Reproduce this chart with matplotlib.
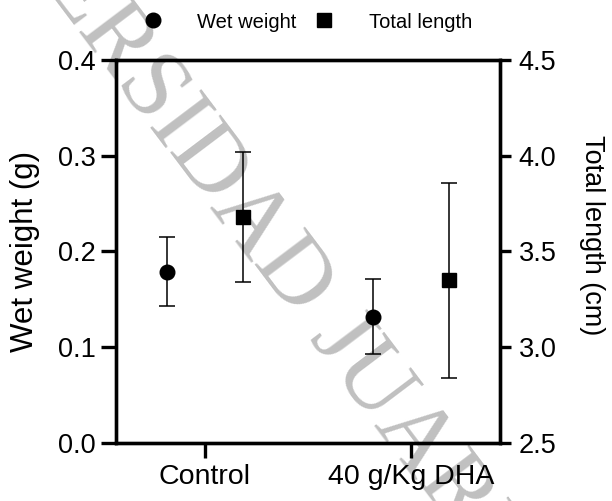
import matplotlib.pyplot as plt
import numpy as np
from matplotlib.lines import Line2D
from matplotlib.ticker import FormatStrFormatter

plt.rcParams['font.family'] = ['Liberation Sans', 'DejaVu Sans']

groups = ["Control", "40 g/Kg DHA"]
wet_weight = [0.179, 0.132]
wet_weight_err = [0.036, 0.039]
total_length = [3.68, 3.35]
total_length_err = [0.34, 0.51]
left_ticks = [0.0, 0.1, 0.2, 0.3, 0.4]
right_ticks = [2.5, 3.0, 3.5, 4.0, 4.5]


def create_plot():
    fig = plt.figure(figsize=(6.12, 5.01), dpi=100, facecolor="white")
    ax = fig.add_axes([0.1895, 0.1158, 0.6275, 0.7645])
    ax2 = ax.twinx()
    for a in (ax, ax2):
        a.set_facecolor("none")

    # background watermark, drawn under the axes
    fig.text(0.3415, 0.5848, "UNIVERSIDAD JUAREZ", rotation=-53, rotation_mode="anchor",
             ha="center", va="baseline", fontsize=70, family="Liberation Serif",
             color="#c0c0c0", zorder=-1)

    x = np.arange(len(groups))
    offset = 0.185
    ax.errorbar(x - offset, wet_weight, yerr=wet_weight_err, fmt="o", color="black",
                ms=10.5, capsize=6, elinewidth=1.1, capthick=1.1, zorder=3)
    ax2.errorbar(x + offset, total_length, yerr=total_length_err, fmt="s", color="black",
                 ms=10, capsize=6, elinewidth=1.1, capthick=1.1, zorder=3)

    ax.set_xlim(-0.432, 1.432)
    ax.set_ylim(0, 0.4)
    ax2.set_ylim(2.5, 4.5)
    ax.set_xticks(x)
    ax.set_xticklabels(groups)
    ax.set_yticks(left_ticks)
    ax2.set_yticks(right_ticks)
    ax.yaxis.set_major_formatter(FormatStrFormatter("%.1f"))
    ax2.yaxis.set_major_formatter(FormatStrFormatter("%.1f"))

    for a in (ax, ax2):
        for s in a.spines.values():
            s.set_linewidth(2.4)
    ax.tick_params(axis="y", direction="out", length=11, width=2.4, pad=3.5, labelsize=19.5)
    ax.tick_params(axis="x", direction="out", length=11, width=2.4, pad=4, labelsize=20.5)
    ax2.tick_params(axis="y", direction="out", length=8, width=2.4, pad=5.5, labelsize=19.5)

    ax.set_ylabel("Wet weight (g)", fontsize=22.5)
    ax.yaxis.set_label_coords(-0.237, 0.5)
    ax.yaxis.label.set_va("center")
    ax2.set_ylabel("Total length (cm)", fontsize=19.5, rotation=270)
    ax2.yaxis.set_label_coords(1.24, 0.543)
    ax2.yaxis.label.set_va("center")

    handles = [
        Line2D([], [], marker="o", ls="none", color="black", ms=10.5),
        Line2D([], [], marker="s", ls="none", color="black", ms=10.5),
    ]
    fig.legend(handles, ["Wet weight", "Total length"], loc="center",
               bbox_to_anchor=(0.502, 0.956), ncol=2, frameon=False, fontsize=14.5,
               handlelength=1.0, handletextpad=1.7, columnspacing=0.9, borderpad=0)

    fig.savefig("out.png", dpi=100)


if __name__ == "__main__":
    create_plot()
